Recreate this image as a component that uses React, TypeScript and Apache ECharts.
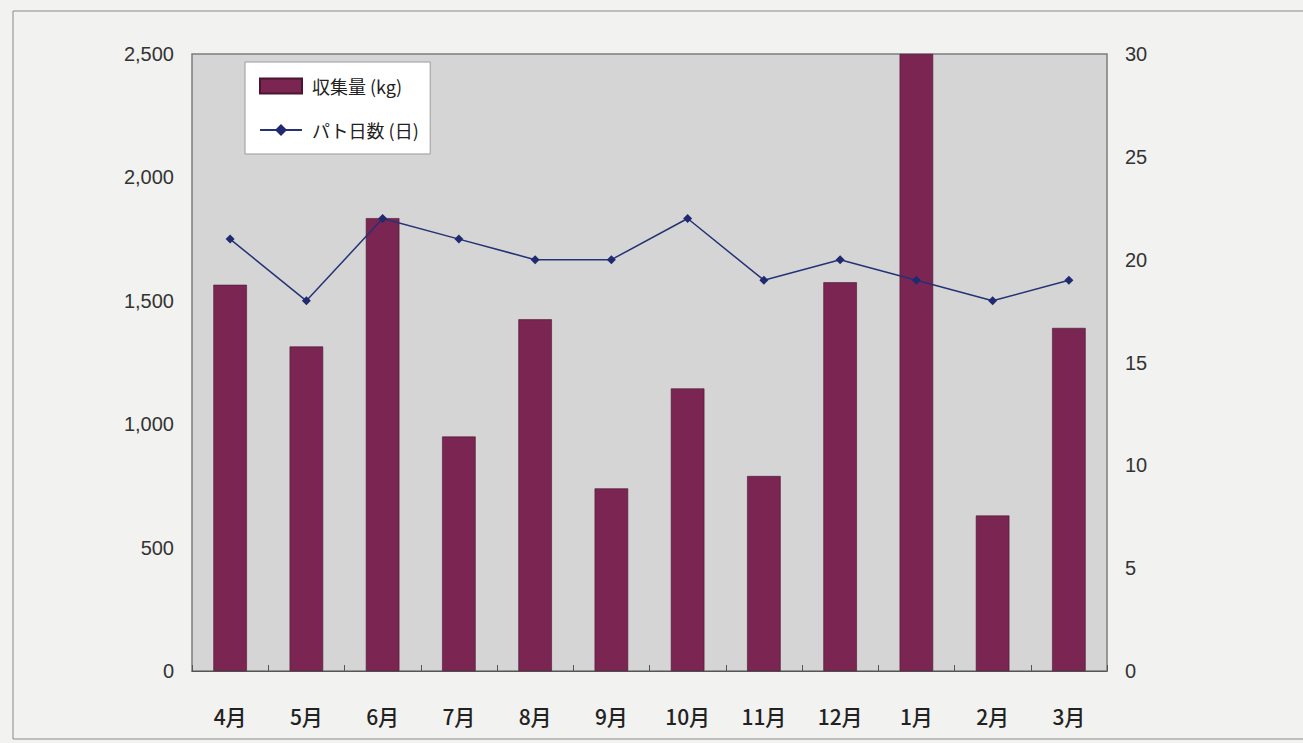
import React, { useEffect, useRef } from "react";
import * as echarts from "echarts";

const categories = ["4月", "5月", "6月", "7月", "8月", "9月", "10月", "11月", "12月", "1月", "2月", "3月"];
const collected = [1565, 1315, 1835, 950, 1425, 740, 1145, 790, 1575, 2500, 630, 1390];
const patrolDays = [21, 18, 22, 21, 20, 20, 22, 19, 20, 19, 18, 19];
const leftTicks = { min: 0, max: 2500, interval: 500 };
const rightTicks = { min: 0, max: 30, interval: 5 };

const numFont = "'Liberation Sans', Arial, sans-serif";
const jpFont = "'Noto Sans CJK JP', sans-serif";

export default function App() {
  const ref = useRef<HTMLDivElement>(null);
  useEffect(() => {
    if (!ref.current) return;
    const chart = echarts.init(ref.current, undefined, { renderer: "svg" });
    chart.setOption({
      animation: false,
      backgroundColor: "#f2f2f0",
      graphic: [
        {
          type: "rect",
          shape: { x: 13, y: 11, width: 1320, height: 728 },
          style: { fill: "none", stroke: "#8a8a8a", lineWidth: 1 },
          silent: true,
        },
      ],
      grid: {
        left: 192,
        right: 196,
        top: 54,
        bottom: 72,
        show: true,
        backgroundColor: "#d5d5d5",
        borderColor: "#7d7d7d",
        borderWidth: 1.5,
      },
      legend: {
        left: 245,
        top: 62,
        orient: "vertical",
        backgroundColor: "#ffffff",
        borderColor: "#9a9a9a",
        borderWidth: 1,
        padding: [15, 12, 15, 14],
        itemWidth: 42,
        itemHeight: 15,
        itemGap: 26,
        textStyle: { fontFamily: jpFont, fontSize: 18, color: "#222", padding: [0, 0, 0, 5] },
        data: [
          { name: "収集量 (kg)", icon: "rect" },
          { name: "パト日数 (日)" },
        ],
      },
      xAxis: {
        type: "category",
        data: categories,
        axisLine: { show: true, lineStyle: { color: "#555", width: 1 } },
        axisTick: { show: true, inside: true, length: 6, lineStyle: { color: "#555" } },
        axisLabel: { margin: 34, fontFamily: jpFont, fontSize: 21, fontWeight: 500, color: "#222" },
      },
      yAxis: [
        {
          type: "value",
          ...leftTicks,
          position: "left",
          splitLine: { show: false },
          axisLine: { show: false },
          axisTick: { show: false },
          axisLabel: {
            margin: 18,
            fontFamily: numFont,
            fontSize: 20,
            color: "#333",
            formatter: (v: number) => v.toLocaleString("en-US"),
          },
        },
        {
          type: "value",
          ...rightTicks,
          position: "right",
          splitLine: { show: false },
          axisLine: { show: false },
          axisTick: { show: false },
          axisLabel: { margin: 18, fontFamily: numFont, fontSize: 20, color: "#333" },
        },
      ],
      series: [
        {
          name: "収集量 (kg)",
          type: "bar",
          data: collected,
          barWidth: "44%",
          itemStyle: { color: "#7a2552", borderColor: "#4a1530", borderWidth: 0.6 },
        },
        {
          name: "パト日数 (日)",
          type: "line",
          yAxisIndex: 1,
          data: patrolDays,
          symbol: "diamond",
          symbolSize: 9,
          lineStyle: { color: "#253276", width: 1.5 },
          itemStyle: { color: "#1f2a70" },
        },
      ],
    });
    return () => chart.dispose();
  }, []);
  return (
    <div
      ref={ref}
      style={{ position: "fixed", left: 0, top: 0, width: 1303, height: 743 }}
    />
  );
}
